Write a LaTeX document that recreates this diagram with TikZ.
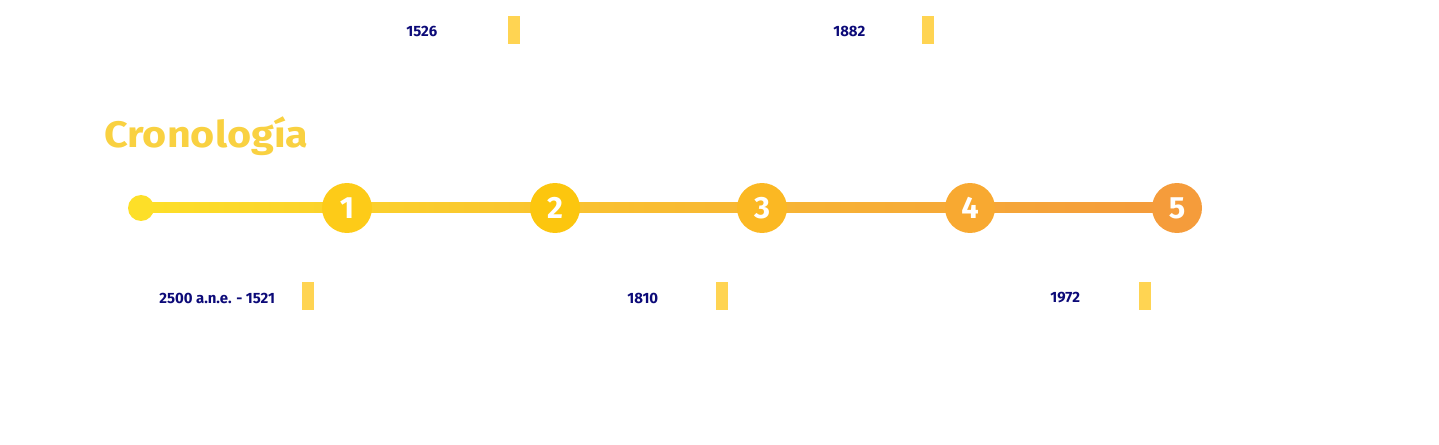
\documentclass[tikz,border=0pt]{standalone}
\usepackage{fontspec}
\setmainfont{Fira Sans}
\usepackage{xcolor}
\usepackage{tikz}
\usetikzlibrary{positioning,calc}

\definecolor{titleyellow}{HTML}{F9D141}
\definecolor{dateblue}{HTML}{0C0A78}
\definecolor{baryellow}{HTML}{FFD452}
\definecolor{lineyellow}{HTML}{FDDF28}
\definecolor{lineorange}{HTML}{F49A3C}

\begin{document}
\begin{tikzpicture}[x=0.02cm, y=-0.02cm,
    stepdot/.style={circle, inner sep=0pt, minimum size=1cm, text=white, font=\fontsize{17.5}{17.5}\selectfont\bfseries},
    datelabel/.style={anchor=west, inner sep=0pt, text=dateblue, font=\fontsize{8.5}{8.5}\selectfont\bfseries},
    datebar/.style={fill=baryellow, inner sep=0pt, minimum width=0.24cm, minimum height=0.56cm}]
    \useasboundingbox (0,0) rectangle (1439,445);

    % title
    \node[anchor=base west, inner sep=0pt, xscale=1.12, text=titleyellow, font=\fontsize{21}{21}\selectfont\bfseries] (title) at (104,148) {Cronología};

    % timeline
    \coordinate (start) at (141,208);
    \shade[left color=lineyellow, right color=lineorange] ($(start)+(0,-5)$) rectangle (1177,213);
    \node[circle, fill=lineyellow, inner sep=0pt, minimum size=0.52cm] (dot) at (start) {};
    \node[stepdot, fill={rgb,255:red,253;green,203;blue,24}] (n1) at (347,208) {1};
    \node[stepdot, fill={rgb,255:red,252;green,198;blue,14}] (n2) at (555,208) {2};
    \node[stepdot, fill={rgb,255:red,251;green,184;blue,35}] (n3) at (762,208) {3};
    \node[stepdot, fill={rgb,255:red,248;green,169;blue,49}] (n4) at (970,208) {4};
    \node[stepdot, fill={rgb,255:red,245;green,156;blue,59}] (n5) at (1177,208) {5};

    % dates above
    \node[datelabel] (d2) at (406,31) {1526};
    \node[datebar] (b2) at (514,30) {};
    \node[datelabel] (d4) at (833,31) {1882};
    \node[datebar] (b4) at (927.5,30) {};

    % dates below
    \node[datelabel] (d1) at (159,298) {2500 a.n.e. - 1521};
    \node[datebar] (b1) at (308,296) {};
    \node[datelabel] (d3) at (627,298) {1810};
    \node[datebar] (b3) at (721.5,296) {};
    \node[datelabel] (d5) at (1050,298) {1972};
    \node[datebar] (b5) at (1144.5,296) {};
\end{tikzpicture}
\end{document}
